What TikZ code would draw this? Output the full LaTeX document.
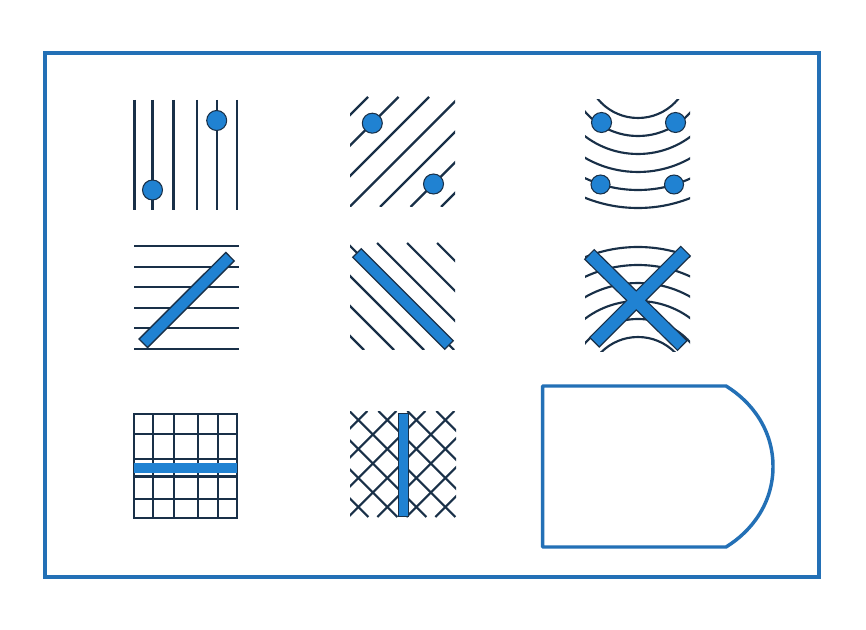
\documentclass[tikz,border=0pt]{standalone}
\usetikzlibrary{calc}
\definecolor{frameblue}{RGB}{35,112,182}
\definecolor{fillblue}{RGB}{32,130,210}
\definecolor{ink}{RGB}{25,48,72}
\tikzset{
  hatch/.style={draw=ink, line width=1.6pt},
  dot/.style={fill=fillblue, draw=ink, line width=0.8pt},
  barbox/.style={fill=fillblue, draw=ink, line width=1pt, line join=miter},
  frameline/.style={draw=frameblue, line width=3pt},
  dshape/.style={draw=frameblue, line width=2.6pt, line join=round},
}
\newcommand\mybarpath[3]{($(#1)!#3!90:(#2)$) -- ($(#2)!#3!-90:(#1)$) -- ($(#2)!#3!90:(#1)$) -- ($(#1)!#3!-90:(#2)$) -- cycle}
\begin{document}
\begin{tikzpicture}[x=0.75pt,y=-0.75pt]
\useasboundingbox (0,0) rectangle (866,630);
\fill[white] (0,0) rectangle (866,630);
% outer frame
\draw[frameline] (45,53) rectangle (819,577);

% ---------- tile 1: vertical lines with dots
\foreach \x in {134.5,152.5,173.5,196.7,216.7,236.7}
  \draw[hatch] (\x,100) -- (\x,210);
\draw[dot] (152.5,190) circle[radius=10];
\draw[dot] (216.7,120.5) circle[radius=10];

% ---------- tile 2: diagonal lines with dots
\begin{scope}
  \clip (350,97) rectangle (455,207);
  \foreach \c in {465,495.5,526,556.5,587,617.5,648}
    \draw[hatch] (\c-207,207) -- (\c-97,97);
\end{scope}
\draw[dot] (372.3,123.2) circle[radius=10];
\draw[dot] (433.5,184) circle[radius=10];

% ---------- tile 3: concentric arcs with dots
\begin{scope}
  \clip (585,100) rectangle (690,210);
  \foreach \r in {52,70,88,106,124,142}
    \draw[hatch] (638,66) circle[radius=\r];
\end{scope}
\draw[dot] (601.5,122.5) circle[radius=10];
\draw[dot] (675.5,122.5) circle[radius=10];
\draw[dot] (600.5,184.5) circle[radius=9.5];
\draw[dot] (674,184.5) circle[radius=9.5];

% ---------- tile 4: horizontal lines with bar
\foreach \y in {246,266.6,287.2,307.8,328.4,349}
  \draw[hatch] (134,\y) -- (238.5,\y);
\coordinate (b4a) at (143.3,343.3);
\coordinate (b4b) at (230,256.7);
\draw[barbox] \mybarpath{b4a}{b4b}{4.5pt};

% ---------- tile 5: diagonal lines with bar
\begin{scope}
  \clip (350,243) rectangle (455,350);
  \foreach \c in {14,44,74,104,134,164,194}
    \draw[hatch] (\c+243,243) -- (\c+350,350);
\end{scope}
\coordinate (b5a) at (357,253);
\coordinate (b5b) at (449,345);
\draw[barbox] \mybarpath{b5a}{b5b}{4.5pt};

% ---------- tile 6: concentric arcs with cross
\begin{scope}
  \clip (585,244) rectangle (690,352);
  \foreach \r in {52,70,88,106,124,142}
    \draw[hatch] (638,389) circle[radius=\r];
\end{scope}
\coordinate (b6a) at (590,255);
\coordinate (b6b) at (681.7,345);
\coordinate (b6c) at (685,251.7);
\coordinate (b6d) at (595,341.7);
\draw[draw=ink, line width=2pt, line join=miter] \mybarpath{b6a}{b6b}{4.5pt} \mybarpath{b6c}{b6d}{4.5pt};
\fill[fillblue] \mybarpath{b6a}{b6b}{4.5pt} \mybarpath{b6c}{b6d}{4.5pt};

% ---------- tile 7: grid with horizontal bar
\foreach \x in {134.3,153.3,174.3,197.7,217.7,237.3}
  \draw[hatch] (\x,414.3) -- (\x,518.3);
\foreach \y in {414.3,434.3,459,476.5,499.3,518.3}
  \draw[hatch] (134.3,\y) -- (237.3,\y);
\draw[hatch, line cap=square] (134.3,414.3) rectangle (237.3,518.3);
\fill[fillblue] (134.3,463.2) rectangle (237.3,472.5);

% ---------- tile 8: cross-hatching with vertical bar
\begin{scope}
  \clip (350,411) rectangle (456,517);
  \foreach \k in {0,...,6}
    \draw[hatch] (778.3+29*\k-517,517) -- (778.3+29*\k-411,411);
  \foreach \k in {-3,...,3}
    \draw[hatch] (411-61.7+29*\k,411) -- (517-61.7+29*\k,517);
\end{scope}
\draw[barbox] (398.3,413.3) rectangle (408.3,516.7);

% ---------- tile 9: D shape
\draw[dshape] (542.7,386) -- (726,386)
  .. controls (752,402) and (773,430) .. (773,466.5)
  .. controls (773,503) and (752,531) .. (726,547)
  -- (542.7,547) -- cycle;
\end{tikzpicture}
\end{document}
